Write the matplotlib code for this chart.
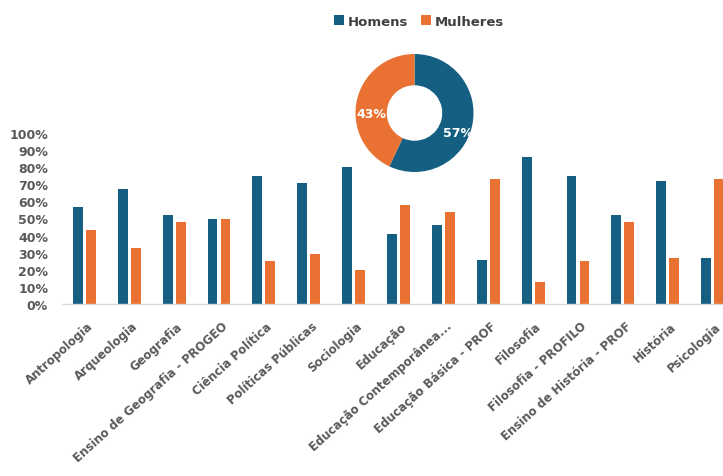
import matplotlib.pyplot as plt
import numpy as np

cursos = ['Antropologia', 'Arqueologia', 'Geografia', 'Ensino de Geografia - PROGEO',
          'Ciência Política', 'Políticas Públicas', 'Sociologia', 'Educação',
          'Educação Contemporânea...', 'Educação Básica - PROF', 'Filosofia',
          'Filosofia - PROFILO', 'Ensino de História - PROF', 'História', 'Psicologia']
homens = [57, 67, 52, 50, 75, 71, 80, 41, 46, 26, 86, 75, 52, 72, 27]
mulheres = [43, 33, 48, 50, 25, 29, 20, 58, 54, 73, 13, 25, 48, 27, 73]
total_labels = ['Homens', 'Mulheres']
total_pct = [57, 43]
y_ticks = list(range(0, 101, 10))

AZUL = '#156082'
LARANJA = '#E97132'
CINZA = '#595959'

plt.rcParams['font.family'] = 'DejaVu Sans'
plt.rcParams['font.weight'] = 'bold'

fig = plt.figure(figsize=(7.23, 4.77), dpi=100)
fig.patch.set_facecolor('white')

# bar chart per course
ax = fig.add_axes([62 / 723, 172 / 477, 673 / 723, 171 / 477])
x = np.arange(len(cursos))
w = 0.22
b1 = ax.bar(x - 0.145, homens, w, color=AZUL, label=total_labels[0])
b2 = ax.bar(x + 0.145, mulheres, w, color=LARANJA, label=total_labels[1])
ax.set_xlim(-0.5, len(cursos) - 0.5)
ax.set_ylim(0, 100)
ax.set_yticks(y_ticks)
ax.set_yticklabels([f'{t}%' for t in y_ticks], fontsize=9, color=CINZA, fontweight='bold')
ax.set_xticks(x + 0.05)
ax.set_xticklabels(cursos, rotation=42, ha='right', rotation_mode='anchor',
                   fontsize=8.5, color=CINZA, fontweight='bold')
ax.tick_params(axis='y', length=0, pad=10)
ax.tick_params(axis='x', length=0, pad=11)
for s in ['top', 'right', 'left']:
    ax.spines[s].set_visible(False)
ax.spines['bottom'].set_color('#D9D9D9')
ax.spines['bottom'].set_linewidth(1)

fig.legend(handles=[b1, b2], loc='center', bbox_to_anchor=(419 / 723, 1 - 22 / 477),
           ncol=2, frameon=False, handlelength=0.75, handleheight=0.75,
           handletextpad=0.25, columnspacing=1.0, labelcolor='#404040',
           prop={'weight': 'bold', 'size': 9.5})

# donut with the overall split
r = 59
pax = fig.add_axes([(414.5 - r) / 723, (477 - 114 - r) / 477, 2 * r / 723, 2 * r / 477])
wedges, texts, autotexts = pax.pie(total_pct, colors=[AZUL, LARANJA], startangle=90,
                                   counterclock=False, radius=1,
                                   wedgeprops=dict(width=0.53, linewidth=0),
                                   autopct='%1.0f%%', pctdistance=0.75,
                                   textprops=dict(color='white', fontsize=9, fontweight='bold'))
for t in autotexts:
    px, py = t.get_position()
    t.set_position((px, py - 0.17))
pax.set_xlim(-1, 1)
pax.set_ylim(-1, 1)
pax.set_aspect('equal')
pax.axis('off')

fig.savefig('out.png', dpi=100)
